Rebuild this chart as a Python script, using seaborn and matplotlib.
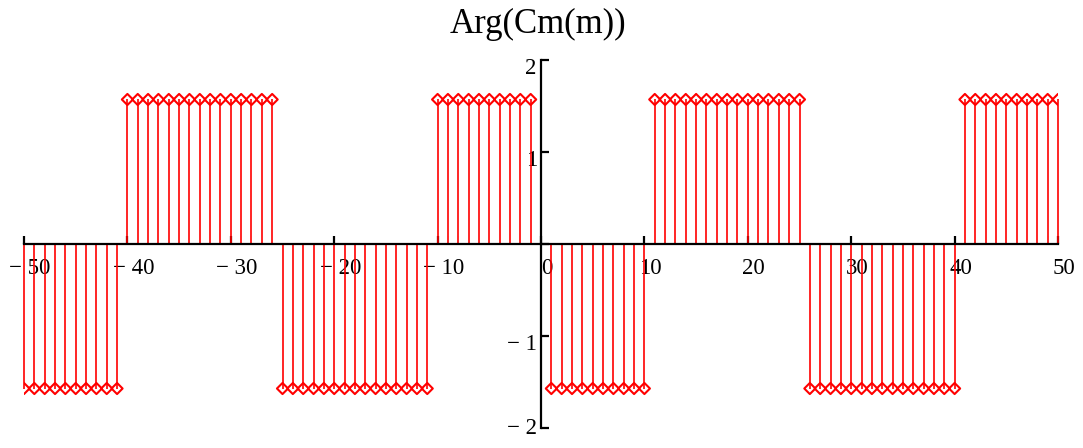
import matplotlib
matplotlib.use("Agg")
import matplotlib.pyplot as plt
import matplotlib.transforms as mtransforms
import numpy as np
import pandas as pd
import seaborn as sns

# Harmonic index m (m = 0 has no defined phase and is left out)
m_values = list(range(-50, 0)) + list(range(1, 51))

# Phase of each coefficient Cm(m), in radians
phase = (
    [-1.5708] * 10    # m = -50 .. -41
    + [1.5708] * 15   # m = -40 .. -26
    + [-1.5708] * 15  # m = -25 .. -11
    + [1.5708] * 10   # m = -10 .. -1
    + [-1.5708] * 10  # m = 1 .. 10
    + [1.5708] * 15   # m = 11 .. 25
    + [-1.5708] * 15  # m = 26 .. 40
    + [1.5708] * 10   # m = 41 .. 50
)

x_ticks = [-50, -40, -30, -20, -10, 0, 10, 20, 30, 40, 50]
x_tick_labels = ["\u2212 50", "\u2212 40", "\u2212 30", "\u2212 20", "\u2212 10",
                 "0", "10", "20", "30", "40", "50"]
y_ticks = [-2, -1, 0, 1, 2]
y_tick_labels = ["\u2212 2", "\u2212 1", "", "1", "2"]
title = "Arg(Cm(m))"

sns.set_style("white")
plt.rcParams["font.family"] = ["Liberation Serif", "DejaVu Serif"]

df = pd.DataFrame({"m": m_values, "arg": phase})

fig = plt.figure(figsize=(10.83, 4.48), dpi=100)
ax = fig.add_axes([24 / 1083, 20 / 448, 1034 / 1083, 368 / 448])

# stems
ax.vlines(df["m"], 0, df["arg"], colors="#ff0000", linewidth=1.2, zorder=2,
          clip_on=False)
# open diamond heads
sns.scatterplot(data=df, x="m", y="arg", ax=ax, marker="D", s=32,
                facecolors="none", edgecolor="#ff0000", linewidth=1.5,
                zorder=3, legend=False)

ax.set_xlim(-50, 50)
ax.set_ylim(-2, 2)
ax.set_xlabel("")
ax.set_ylabel("")

# axes cross at the origin
for side in ("top", "right"):
    ax.spines[side].set_visible(False)
ax.spines["left"].set_position(("data", 0))
ax.spines["bottom"].set_position(("data", 0))
for side in ("left", "bottom"):
    ax.spines[side].set_color("black")
    ax.spines[side].set_linewidth(1.6)
    ax.spines[side].set_zorder(4)

ax.set_xticks(x_ticks)
ax.set_xticklabels(x_tick_labels)
ax.set_yticks(y_ticks)
ax.set_yticklabels(y_tick_labels)
ax.tick_params(axis="both", direction="in", length=5.5, width=1.6,
               color="black", labelsize=16.5, labelcolor="black",
               bottom=True, left=True, top=False, right=False)
ax.tick_params(axis="x", pad=10)
ax.tick_params(axis="y", pad=3)

# nudge the tick labels the way the axis text sits beside the ticks
dx = mtransforms.ScaledTranslation(6 / 100, 0, fig.dpi_scale_trans)
for lab in ax.get_xticklabels():
    lab.set_transform(lab.get_transform() + dx)
for val, lab in zip(y_ticks, ax.get_yticklabels()):
    shift = 2 / 100 if val == y_ticks[0] else -6 / 100
    lab.set_transform(lab.get_transform() +
                      mtransforms.ScaledTranslation(0, shift, fig.dpi_scale_trans))

fig.text(0.497, 0.927, title, ha="center", va="baseline", fontsize=25,
         color="black")

ax.set_facecolor("white")
fig.patch.set_facecolor("white")
fig.savefig("out.png", dpi=100)
